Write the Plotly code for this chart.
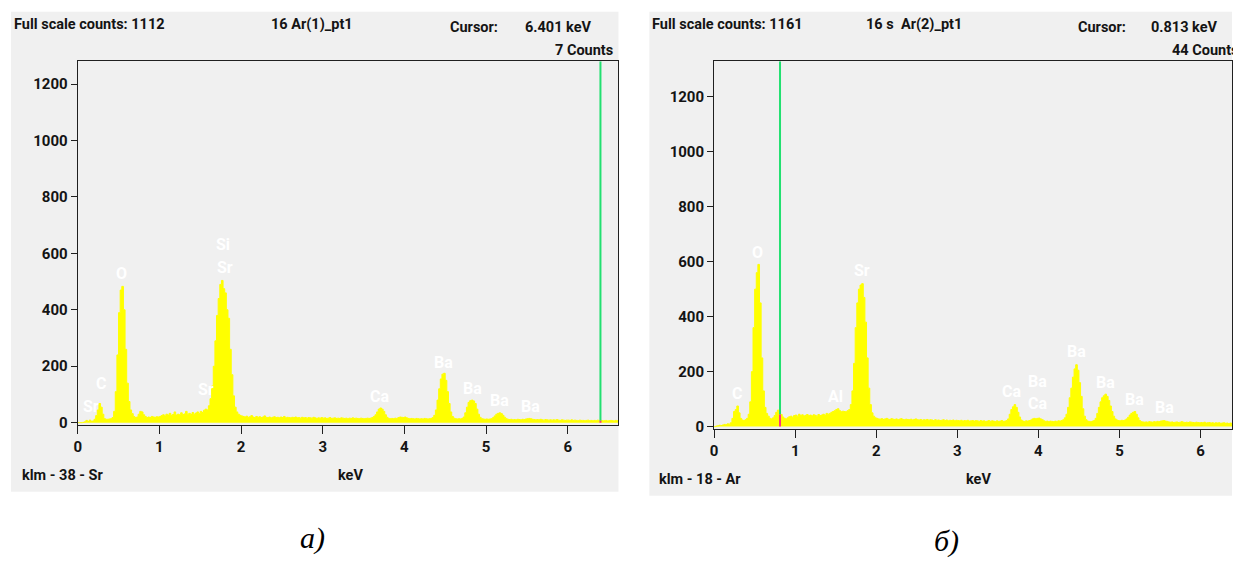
import plotly.graph_objects as go

W, H = 1233, 562

# ---------------- spectrum (а): 16 Ar(1)_pt1, 0.02 keV channels ----------------
CH_KEV = 0.02
counts_a_0 = [0, 0, 0, 1, 3, 8, 4, 9, 5, 6,
              12, 25, 45, 68, 55, 30, 14, 12, 12, 13,
              14, 18, 40, 110, 240, 390, 470, 483, 400, 260,
              140, 75, 45, 32, 22, 18, 20, 30, 40, 38,
              28, 22, 18, 20, 18, 22, 20, 19, 21, 20]
counts_a_1 = [22, 25, 28, 24, 30, 27, 33, 26, 29, 38,
              27, 30, 28, 35, 29, 31, 40, 30, 33, 29,
              36, 30, 34, 38, 32, 40, 36, 44, 48, 45,
              60, 85, 130, 200, 290, 380, 440, 490, 504, 475,
              460, 400, 370, 260, 170, 95, 55, 38, 30, 26]
counts_a_2 = [24, 22, 20, 23, 19, 21, 25, 20, 18, 22,
              19, 21, 18, 20, 24, 19, 18, 20, 17, 19,
              21, 18, 19, 17, 20, 18, 22, 17, 19, 18,
              17, 19, 18, 20, 17, 18, 16, 19, 17, 18,
              16, 18, 17, 16, 19, 17, 15, 17, 16, 18]
counts_a_3 = [16, 17, 15, 16, 18, 15, 16, 17, 15, 16,
              15, 17, 16, 15, 16, 14, 16, 15, 17, 15,
              16, 15, 14, 16, 15, 14, 15, 16, 15, 16,
              18, 22, 28, 38, 48, 52, 48, 40, 28, 19,
              15, 14, 15, 14, 16, 15, 18, 20, 19, 18]
counts_a_4 = [20, 17, 15, 14, 15, 14, 13, 15, 14, 13,
              14, 13, 15, 14, 13, 14, 15, 18, 26, 45,
              80, 120, 155, 172, 175, 150, 110, 68, 38, 22,
              16, 14, 13, 14, 13, 15, 20, 35, 55, 72,
              78, 80, 77, 68, 48, 30, 19, 14, 13, 12]
counts_a_5 = [13, 12, 13, 14, 18, 24, 30, 33, 35, 32,
              26, 19, 14, 12, 11, 12, 10, 11, 10, 12,
              11, 10, 12, 11, 13, 14, 15, 14, 12, 11,
              10, 11, 10, 12, 10, 9, 11, 10, 9, 10,
              9, 10, 9, 11, 9, 8, 10, 9, 8, 9]
counts_a_6 = [9, 8, 10, 8, 9, 8, 7, 9, 8, 8,
              7, 8, 9, 7, 8, 7, 8, 7, 9, 7,
              8, 7, 7, 8, 6, 7, 8, 7, 6, 8,
              7, 9]

# ---------------- spectrum (б): 16 s Ar(2)_pt1 ----------------
counts_b_0 = [0, 2, 3, 5, 4, 6, 8, 7, 10, 9,
              14, 30, 55, 62, 75, 50, 30, 24, 22, 25,
              30, 45, 90, 200, 360, 500, 560, 590, 450, 250,
              130, 70, 48, 38, 30, 28, 32, 40, 52, 60,
              55, 44, 35, 30, 28, 32, 36, 38, 34, 40]
counts_b_1 = [42, 38, 45, 40, 43, 39, 41, 44, 40, 42,
              39, 43, 41, 38, 44, 40, 42, 45, 41, 48,
              45, 48, 52, 55, 58, 62, 65, 58, 54, 56,
              55, 54, 58, 62, 80, 130, 230, 360, 450, 500,
              515, 520, 470, 380, 250, 140, 80, 50, 38, 32]
counts_b_2 = [30, 28, 27, 29, 26, 28, 30, 27, 26, 29,
              27, 26, 28, 25, 27, 29, 26, 25, 27, 26,
              25, 27, 24, 26, 28, 25, 24, 26, 23, 25,
              24, 26, 23, 25, 24, 22, 25, 23, 24, 22,
              23, 25, 22, 24, 21, 23, 22, 24, 21, 23]
counts_b_3 = [22, 21, 23, 20, 22, 21, 23, 20, 21, 22,
              20, 22, 21, 19, 22, 20, 21, 19, 20, 22,
              19, 21, 20, 18, 21, 19, 20, 22, 19, 20,
              22, 28, 45, 62, 72, 80, 70, 52, 35, 24,
              20, 19, 21, 20, 22, 24, 28, 30, 29, 30]
counts_b_4 = [31, 28, 25, 21, 19, 20, 18, 20, 19, 18,
              20, 19, 21, 20, 22, 25, 32, 45, 70, 105,
              140, 180, 210, 225, 205, 160, 110, 65, 38, 25,
              20, 19, 18, 20, 22, 30, 48, 70, 90, 105,
              112, 118, 110, 95, 75, 55, 38, 28, 24, 22]
counts_b_5 = [21, 23, 22, 24, 28, 34, 42, 48, 52, 55,
              45, 32, 22, 18, 17, 16, 17, 16, 18, 17,
              16, 18, 17, 19, 18, 20, 21, 22, 20, 19,
              17, 16, 17, 15, 16, 17, 15, 16, 18, 16,
              15, 16, 15, 17, 16, 15, 14, 16, 15, 14]
counts_b_6 = [15, 14, 16, 13, 14, 15, 13, 14, 12, 14,
              13, 14, 12, 13, 14, 12, 13, 11, 13, 12,
              13]

counts_a = counts_a_0 + counts_a_1 + counts_a_2 + counts_a_3 + counts_a_4 + counts_a_5 + counts_a_6
counts_b = counts_b_0 + counts_b_1 + counts_b_2 + counts_b_3 + counts_b_4 + counts_b_5 + counts_b_6
energy_a = [round(i * CH_KEV, 3) for i in range(len(counts_a))]
energy_b = [round(i * CH_KEV, 3) for i in range(len(counts_b))]

# peak identifications: (element, line energy keV, label height in counts)
labels_a = [("Sr", 0.16, 59), ("C", 0.28, 140), ("O", 0.54, 528),
            ("Si", 1.78, 630), ("Sr", 1.80, 550), ("Sr", 1.57, 119),
            ("Ca", 3.69, 94), ("Ba", 4.48, 213), ("Ba", 4.83, 122),
            ("Ba", 5.17, 77), ("Ba", 5.54, 59)]
labels_b = [("C", 0.28, 122), ("O", 0.54, 632), ("Al", 1.50, 111),
            ("Sr", 1.82, 568), ("Ca", 3.67, 126), ("Ba", 3.99, 165),
            ("Ca", 3.99, 83), ("Ba", 4.47, 273), ("Ba", 4.83, 162),
            ("Ba", 5.18, 97), ("Ba", 5.55, 68)]

# header info
full_scale_a, full_scale_b = 1112, 1161
title_a, title_b = "16 Ar(1)_pt1", "16 s  Ar(2)_pt1"
cursor_kev_a, cursor_cnt_a = 6.401, 7
cursor_kev_b, cursor_cnt_b = 0.813, 44
klm_a, klm_b = "klm - 38 - Sr", "klm - 18 - Ar"

x_ticks = [0, 1, 2, 3, 4, 5, 6]
y_ticks = [0, 200, 400, 600, 800, 1000, 1200]

BLUE = "#0000ff"
YELLOW = "#ffff00"
GREY = "#f0f0f0"
CURSOR = "#22e070"
CURSOR_LOW = "#ff3380"
FONT = "Roboto, Liberation Sans, sans-serif"
INK = "#141414"


def px(x):
    return x / W


def py(y):
    return 1 - y / H


fig = go.Figure()

for cnt, en, xa, ya in ((counts_a, energy_a, "x", "y"), (counts_b, energy_b, "x2", "y2")):
    fig.add_trace(go.Scatter(x=en, y=cnt, mode="lines", line_shape="hv",
                             line=dict(color=YELLOW, width=1),
                             fill="tozeroy", fillcolor=YELLOW,
                             xaxis=xa, yaxis=ya, showlegend=False, hoverinfo="skip"))

# cursor markers
for kev, cnt, top, xa, ya in ((cursor_kev_a, cursor_cnt_a, 1281, "x", "y"),
                              (cursor_kev_b, cursor_cnt_b, 1329, "x2", "y2")):
    fig.add_trace(go.Scatter(x=[kev, kev], y=[cnt, top], mode="lines",
                             line=dict(color=CURSOR, width=2),
                             xaxis=xa, yaxis=ya, showlegend=False, hoverinfo="skip"))
    fig.add_trace(go.Scatter(x=[kev, kev], y=[0, cnt], mode="lines",
                             line=dict(color=CURSOR_LOW, width=2),
                             xaxis=xa, yaxis=ya, showlegend=False, hoverinfo="skip"))

axis_common = dict(showgrid=False, zeroline=False, showline=True, linecolor="#202020",
                   linewidth=1, mirror=True, ticks="outside", tickcolor="#202020",
                   tickfont=dict(family=FONT, size=15, color=INK, weight="bold"))

fig.update_layout(
    width=W, height=H, margin=dict(l=0, r=0, t=0, b=0),
    paper_bgcolor="white", plot_bgcolor=BLUE,
    xaxis=dict(domain=[px(74), px(617)], range=[0, 6.622], tickvals=x_ticks,
               ticklen=8, anchor="y", **axis_common),
    yaxis=dict(domain=[py(430), py(62)], range=[-7, 1281], tickvals=y_ticks,
               ticklen=6, anchor="x", **axis_common),
    xaxis2=dict(domain=[px(713), 1.0], range=[0, 6.388], tickvals=x_ticks,
                ticklen=8, anchor="y2", **axis_common),
    yaxis2=dict(domain=[py(434), py(62)], range=[-7.2, 1329], tickvals=y_ticks,
                ticklen=6, anchor="x2", **axis_common),
)

# panel backgrounds
fig.add_shape(type="rect", xref="paper", yref="paper", x0=px(7), x1=px(617),
              y0=py(498), y1=py(12), fillcolor=GREY, line_width=0, layer="below")
fig.add_shape(type="rect", xref="paper", yref="paper", x0=px(648), x1=1.0,
              y0=py(502), y1=py(12), fillcolor=GREY, line_width=0, layer="below")

ann = []


def text(x, y, s, size=14.5, anchor="left", color=INK):
    ann.append(dict(x=px(x), y=py(y), xref="paper", yref="paper", text=s, showarrow=False,
                    xanchor=anchor, yanchor="middle",
                    font=dict(family=FONT, size=size, color=color, weight="bold")))


# headers and footers
text(8, 25, f"Full scale counts: {full_scale_a}")
text(266, 25, title_a)
text(446, 28, "Cursor:")
text(521, 28, f"{cursor_kev_a:.3f} keV")
text(613, 51, f"{cursor_cnt_a} Counts", anchor="right")
text(16, 482, klm_a)
text(333, 482, "keV")

text(649, 25, f"Full scale counts: {full_scale_b}")
text(864, 25, title_b)
text(1076, 28, "Cursor:")
text(1150, 28, f"{cursor_kev_b:.3f} keV")
text(1171, 51, f"{cursor_cnt_b} Counts")
text(656, 486, klm_b)
text(964, 486, "keV")

# peak labels
for lab, xa, ya in ((labels_a, "x", "y"), (labels_b, "x2", "y2")):
    for el, kev, cnt in lab:
        ann.append(dict(x=kev, y=cnt, xref=xa, yref=ya, text=el, showarrow=False,
                        xanchor="center", yanchor="middle",
                        font=dict(family=FONT, size=16, color="white", weight="bold")))

# sub-figure captions
for s, x, y in (("а)", 310, 545), ("б)", 946, 548)):
    ann.append(dict(x=px(x), y=py(y), xref="paper", yref="paper", text=f"<i>{s}</i>",
                    showarrow=False, xanchor="center", yanchor="middle",
                    font=dict(family="Liberation Serif, DejaVu Serif, serif", size=30, color="black")))

fig.update_layout(annotations=ann)
fig.write_html("out.html")
